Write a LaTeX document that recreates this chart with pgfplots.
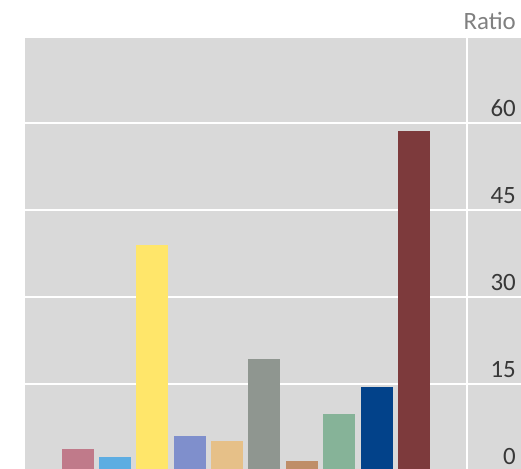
\documentclass[border=0pt]{standalone}
\usepackage{pgfplots}
\pgfplotsset{compat=1.18}
\usepackage{fontspec}
\setmainfont{Carlito}
\usetikzlibrary{calc}
\definecolor{bg}{HTML}{D9D9D9}
\definecolor{c1}{HTML}{C07A8A}
\definecolor{c2}{HTML}{5DADE2}
\definecolor{c3}{HTML}{FFE66A}
\definecolor{c4}{HTML}{7F8FCC}
\definecolor{c5}{HTML}{E6C088}
\definecolor{c6}{HTML}{8F9690}
\definecolor{c7}{HTML}{BF8E68}
\definecolor{c8}{HTML}{86B398}
\definecolor{c9}{HTML}{02428A}
\definecolor{c10}{HTML}{7D3A3C}
\begin{document}
\begin{tikzpicture}
\begin{axis}[
  scale only axis,
  width=496bp, height=433bp,
  xmin=-0.404, xmax=12.86,
  ymin=0, ymax=74.66,
  axis line style={draw=none},
  axis background/.style={fill=bg},
  xtick=\empty,
  ytick={0,15,30,45,60},
  yticklabel pos=right,
  major tick length=0pt,
  ymajorgrids,
  grid style={white, line width=1.5bp},
  /pgf/number format/assume math mode=true,
  yticklabel style={anchor=base east, inner sep=0pt, xshift=-5bp, yshift=7bp,
    font=\fontsize{25}{25}\selectfont, text=black!78},
  clip=false,
]
\addplot[ybar, bar width=32bp, bar shift=0pt, fill=c1, draw=none] coordinates {(1,3.8)};
\addplot[ybar, bar width=32bp, bar shift=0pt, fill=c2, draw=none] coordinates {(2,2.4)};
\addplot[ybar, bar width=32bp, bar shift=0pt, fill=c3, draw=none] coordinates {(3,39)};
\addplot[ybar, bar width=32bp, bar shift=0pt, fill=c4, draw=none] coordinates {(4,6.0)};
\addplot[ybar, bar width=32bp, bar shift=0pt, fill=c5, draw=none] coordinates {(5,5.2)};
\addplot[ybar, bar width=32bp, bar shift=0pt, fill=c6, draw=none] coordinates {(6,19.3)};
\addplot[ybar, bar width=32bp, bar shift=0pt, fill=c7, draw=none] coordinates {(7,1.7)};
\addplot[ybar, bar width=32bp, bar shift=0pt, fill=c8, draw=none] coordinates {(8,9.8)};
\addplot[ybar, bar width=32bp, bar shift=0pt, fill=c9, draw=none] coordinates {(9,14.5)};
\addplot[ybar, bar width=32bp, bar shift=0pt, fill=c10, draw=none] coordinates {(10,58.6)};
\draw[white, line width=1.5bp] (axis cs:11.41,0) -- (axis cs:11.41,74.66);
\node[anchor=base east, inner sep=0pt, text=black!50, font=\fontsize{25}{25}\selectfont]
  at ($(rel axis cs:1,1)+(-5bp,8bp)$) {Ratio};
\coordinate (SW) at (rel axis cs:0,0);
\coordinate (NE) at (rel axis cs:1,1);
\end{axis}
\pgfresetboundingbox
\path[use as bounding box] ($(SW)+(-25bp,2bp)$) rectangle ($(NE)+(0,38bp)$);
\end{tikzpicture}
\end{document}
